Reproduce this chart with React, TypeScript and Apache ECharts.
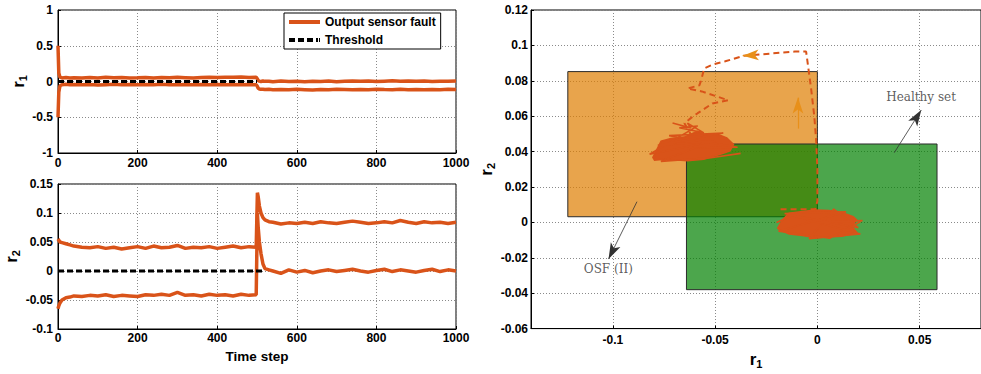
import React, { useEffect, useRef } from "react";
import * as echarts from "echarts";

// ---- Time-domain residuals -------------------------------------------------
const STEPS = [
  0, 2, 5, 10, 20, 30, 40, 60, 80, 100, 120, 140, 160, 180, 200, 220, 240, 260, 280, 300,
  320, 340, 360, 380, 400, 420, 440, 460, 480, 498, 501, 503, 506, 510, 515, 520, 530, 540,
  560, 580, 600, 620, 640, 660, 680, 700, 720, 740, 760, 780, 800, 820, 840, 860, 880, 900,
  920, 940, 960, 980, 1000,
];

const R1_UPPER = [
  0.5, 0.12, 0.06, 0.05, 0.055, 0.05, 0.052, 0.048, 0.055, 0.05, 0.058, 0.052, 0.055, 0.05,
  0.053, 0.057, 0.05, 0.055, 0.052, 0.058, 0.054, 0.05, 0.056, 0.06, 0.055, 0.06, 0.058,
  0.062, 0.057, 0.06, 0.035, 0.015, 0.005, 0.0, 0.008, 0.002, 0.005, -0.002, 0.006, 0.0,
  0.004, -0.003, 0.005, 0.001, 0.006, -0.002, 0.004, 0.008, 0.002, 0.006, 0.0, 0.005, 0.009,
  0.003, 0.007, 0.002, 0.006, 0.001, 0.005, 0.003, 0.006,
];

const R1_LOWER = [
  -0.5, -0.15, -0.06, -0.045, -0.04, -0.045, -0.042, -0.047, -0.043, -0.048, -0.044, -0.04,
  -0.046, -0.043, -0.047, -0.042, -0.045, -0.04, -0.044, -0.047, -0.042, -0.045, -0.041,
  -0.046, -0.043, -0.047, -0.042, -0.045, -0.041, -0.044, -0.07, -0.095, -0.105, -0.11,
  -0.108, -0.113, -0.11, -0.115, -0.112, -0.117, -0.11, -0.114, -0.118, -0.112, -0.115,
  -0.11, -0.113, -0.117, -0.111, -0.114, -0.109, -0.113, -0.116, -0.11, -0.114, -0.111,
  -0.115, -0.112, -0.116, -0.11, -0.113,
];

const R2_UPPER = [
  0.055, 0.053, 0.05, 0.049, 0.047, 0.045, 0.043, 0.041, 0.04, 0.042, 0.039, 0.041, 0.038,
  0.04, 0.042, 0.039, 0.043, 0.04, 0.041, 0.044, 0.039, 0.041, 0.04, 0.042, 0.039, 0.041,
  0.043, 0.04, 0.042, 0.041, 0.135, 0.128, 0.112, 0.1, 0.092, 0.088, 0.085, 0.084, 0.081,
  0.083, 0.082, 0.084, 0.082, 0.085, 0.083, 0.082, 0.084, 0.086, 0.084, 0.082, 0.083, 0.085,
  0.083, 0.087, 0.084, 0.082, 0.085, 0.083, 0.084, 0.082, 0.084,
];

const R2_LOWER = [
  -0.065, -0.06, -0.055, -0.05, -0.046, -0.045, -0.043, -0.044, -0.042, -0.043, -0.041,
  -0.044, -0.042, -0.043, -0.044, -0.041, -0.042, -0.04, -0.042, -0.037, -0.042, -0.041,
  -0.043, -0.04, -0.042, -0.041, -0.043, -0.04, -0.042, -0.041, 0.1, 0.075, 0.05, 0.03,
  0.012, 0.004, 0.002, 0.0, -0.004, 0.002, -0.002, 0.001, -0.003, 0.0, 0.002, -0.001, 0.001,
  0.003, 0.0, -0.002, 0.001, 0.003, -0.001, 0.002, 0.0, -0.002, 0.001, 0.003, -0.001, 0.002,
  0.0,
];

const THRESHOLD_T1 = [0, 500];
const THRESHOLD_T2 = [0, 520];
const THRESHOLD_LEVEL = [0, 0];

// ---- Residual plane (r1, r2) ----------------------------------------------
const OSF_SET_R1 = [-0.122, 0.0];
const OSF_SET_R2 = [0.0032, 0.0852];
const HEALTHY_SET_R1 = [-0.064, 0.0585];
const HEALTHY_SET_R2 = [-0.038, 0.0443];

const R1_TICKS = [-0.1, -0.05, 0, 0.05];

// transition between the two operating regions
const PATH_R1 = [
  -0.018, -0.001, 0.0, 0.0, -0.0005, -0.0015, -0.003, -0.0045, -0.0055, -0.011, -0.027,
  -0.036, -0.045, -0.051, -0.0553, -0.0569, -0.0577, -0.0635, -0.0565, -0.05, -0.0436,
  -0.0513, -0.0585, -0.0619, -0.065, -0.062,
];
const PATH_R2 = [
  0.0075, 0.0075, 0.012, 0.03, 0.045, 0.06, 0.075, 0.088, 0.0965, 0.0965, 0.095, 0.0942,
  0.091, 0.0893, 0.087, 0.08, 0.0774, 0.0757, 0.074, 0.0715, 0.069, 0.0672, 0.0617, 0.0589,
  0.056, 0.05,
];

// extent of the dense residual cloud in each operating mode
const HEALTHY_CLOUD: [number, number][] = [
  [-0.0194, -0.0032], [-0.017, 0.0015], [-0.0138, 0.0052], [-0.0073, 0.0061],
  [-0.0009, 0.007], [0.0055, 0.0067], [0.0119, 0.0056], [0.0175, 0.0033], [0.0192, 0.0015],
  [0.0168, -0.0022], [0.0192, -0.0056], [0.0119, -0.0078], [0.0039, -0.0082],
  [-0.0009, -0.0087], [-0.0073, -0.0074], [-0.0138, -0.0065], [-0.0186, -0.0041],
];

const FAULT_CLOUD: [number, number][] = [
  [-0.0804, 0.0367], [-0.078, 0.0422], [-0.0764, 0.0459], [-0.0716, 0.0474],
  [-0.0651, 0.0482], [-0.0587, 0.0515], [-0.0555, 0.0496], [-0.0491, 0.05], [-0.0443, 0.0478],
  [-0.041, 0.0441], [-0.0427, 0.0404], [-0.0475, 0.0385], [-0.0555, 0.0357],
  [-0.0635, 0.0348], [-0.0684, 0.0352], [-0.0748, 0.0357], [-0.0796, 0.0352],
];

// scattered excursions around the clouds
const HEALTHY_SCRIBBLE: [number, number][] = [
  [-0.02, 0.0], [-0.012, 0.004], [0.02, -0.003], [0.008, 0.0075], [-0.004, -0.0092],
  [0.021, -0.0065], [-0.016, 0.005], [0.014, 0.006], [-0.019, -0.005], [0.006, -0.009],
  [0.022, 0.001], [0.0, 0.0],
];

const FAULT_SCRIBBLE: [number, number][] = [
  [-0.0708, 0.0561], [-0.0619, 0.0533], [-0.0635, 0.0561], [-0.0555, 0.0506],
  [-0.0675, 0.0535], [-0.0585, 0.0545], [-0.082, 0.0385], [-0.05, 0.046], [-0.078, 0.0435],
  [-0.046, 0.0505], [-0.0725, 0.049], [-0.039, 0.0425], [-0.06, 0.042], [-0.0765, 0.0345],
  [-0.052, 0.0365], [-0.0375, 0.039],
];

// annotation arrows: [start, end]
const HEALTHY_ARROW_R1 = [0.0376, 0.0508];
const HEALTHY_ARROW_R2 = [0.0394, 0.0635];
const OSF_ARROW_R1 = [-0.0882, -0.1021];
const OSF_ARROW_R2 = [0.0117, -0.0207];
const LEFT_ARROW_R1 = [-0.03, -0.0365];
const LEFT_ARROW_R2 = [0.0946, 0.0942];
const UP_ARROW_R1 = [-0.0095, -0.0095];
const UP_ARROW_R2 = [0.053, 0.0705];

const LABEL_NAMES = ["Healthy set", "OSF (II)"];
const LABEL_R1 = [0.0507, -0.1022];
const LABEL_R2 = [0.0706, -0.0261];

// ---- Styling ----------------------------------------------------------------
const FONT = "Liberation Sans";
const SERIF = "DejaVu Serif";
const ORANGE = "#d95319";
const ARROW_ORANGE = "#e8901a";

const fmt = (v: number) => String(Number(v.toFixed(4)));

const zip = (xs: number[], ys: number[]) => xs.map((x, i) => [x, ys[i]]);

const axisBase = (extra: any) => ({
  type: "value",
  axisLine: { show: true, onZero: false, lineStyle: { color: "#000", width: 1 } },
  axisTick: { show: true, inside: true, length: 3, lineStyle: { color: "#000" } },
  splitLine: { show: true, lineStyle: { color: "#8a8a8a", type: [1, 2], width: 1 } },
  ...extra,
  axisLabel: {
    color: "#000",
    fontFamily: FONT,
    fontWeight: "bold",
    fontSize: 12,
    formatter: fmt,
    ...(extra.axisLabel || {}),
  },
});

const subName = (base: string, sub: string) => ({
  name: `{r|${base}}{s|${sub}}`,
  nameTextStyle: {
    rich: {
      r: { fontFamily: FONT, fontWeight: "bold", fontSize: 17, color: "#000", lineHeight: 20 },
      s: {
        fontFamily: FONT,
        fontWeight: "bold",
        fontSize: 11,
        color: "#000",
        lineHeight: 13,
        verticalAlign: "bottom",
        padding: [6, 0, 0, 0],
      },
    },
  },
});

const residualLine = (grid: number, values: number[]) => ({
  name: "Output sensor fault",
  type: "line",
  xAxisIndex: grid,
  yAxisIndex: grid,
  data: zip(STEPS, values),
  symbol: "none",
  showSymbol: false,
  lineStyle: { color: ORANGE, width: 3.5 },
  itemStyle: { color: ORANGE },
  z: 3,
});

const thresholdLine = (grid: number, ts: number[]) => ({
  name: "Threshold",
  type: "line",
  xAxisIndex: grid,
  yAxisIndex: grid,
  data: zip(ts, THRESHOLD_LEVEL),
  symbol: "none",
  showSymbol: false,
  lineStyle: { color: "#000", width: 3, type: [6, 3] },
  itemStyle: { color: "#000" },
  z: 4,
});

const cloudSeries = (name: string, outline: [number, number][]) => ({
  name,
  type: "custom",
  xAxisIndex: 2,
  yAxisIndex: 2,
  z: 3,
  silent: true,
  data: [outline[0]],
  renderItem: (_params: any, api: any) => ({
    type: "polygon",
    shape: { points: outline.map((p) => api.coord(p)) },
    style: { fill: ORANGE, stroke: ORANGE, lineWidth: 1.5 },
  }),
});

const scribbleSeries = (name: string, pts: [number, number][]) => ({
  name,
  type: "line",
  xAxisIndex: 2,
  yAxisIndex: 2,
  data: pts,
  symbol: "none",
  showSymbol: false,
  silent: true,
  lineStyle: { color: ORANGE, width: 1.6 },
  z: 3,
});

const arrow = (xs: number[], ys: number[], color: string, width: number, size: number[]) => [
  {
    coord: [xs[0], ys[0]],
    lineStyle: { color, width, type: "solid" },
    symbolSize: size,
  },
  { coord: [xs[1], ys[1]] },
];

export default function App() {
  const ref = useRef<HTMLDivElement>(null);

  useEffect(() => {
    if (!ref.current) return;
    const chart = echarts.init(ref.current, undefined, { renderer: "svg" });

    const option: any = {
      animation: false,
      backgroundColor: "#fff",
      grid: [
        { left: 58, top: 10, width: 398, height: 143, show: true, borderColor: "#000", borderWidth: 1 },
        { left: 58, top: 184, width: 398, height: 145, show: true, borderColor: "#000", borderWidth: 1 },
        { left: 531, top: 10, width: 457, height: 324, show: true, borderColor: "#000", borderWidth: 1 },
      ],
      legend: {
        left: 284,
        top: 13,
        orient: "vertical",
        itemWidth: 31,
        itemHeight: 4,
        itemGap: 6,
        padding: [3, 5, 3, 5],
        backgroundColor: "#fff",
        borderColor: "#000",
        borderWidth: 1,
        borderRadius: 0,
        textStyle: { fontFamily: FONT, fontWeight: "bold", fontSize: 12, color: "#000" },
        data: [
          { name: "Output sensor fault", icon: "path://M0,0H31V4H0Z" },
          {
            name: "Threshold",
            icon: "path://M0,0H6V4H0Z M9,0H15V4H9Z M18,0H24V4H18Z M27,0H29V4H27Z M30,0H31V4H30Z",
          },
        ],
      },
      xAxis: [
        axisBase({ gridIndex: 0, min: 0, max: 1000, interval: 200, axisLabel: { margin: 4 } }),
        axisBase({
          gridIndex: 1,
          min: 0,
          max: 1000,
          interval: 200,
          axisLabel: { margin: 3 },
          name: "Time step",
          nameLocation: "middle",
          nameGap: 20,
          nameTextStyle: { fontFamily: FONT, fontWeight: "bold", fontSize: 13.5, color: "#000" },
        }),
        axisBase({
          gridIndex: 2,
          min: -0.14,
          max: 0.08,
          axisTick: { show: true, inside: true, length: 3, lineStyle: { color: "#000" }, customValues: R1_TICKS },
          axisLabel: { margin: 5, customValues: R1_TICKS },
          nameLocation: "middle",
          nameGap: 12,
          ...subName("r", "1"),
        }),
      ],
      yAxis: [
        axisBase({
          gridIndex: 0,
          min: -1,
          max: 1,
          interval: 0.5,
          axisLabel: { margin: 5 },
          nameLocation: "middle",
          nameRotate: 90,
          nameGap: 30,
          ...subName("r", "1"),
        }),
        axisBase({
          gridIndex: 1,
          min: -0.1,
          max: 0.15,
          interval: 0.05,
          axisLabel: { margin: 5 },
          nameLocation: "middle",
          nameRotate: 90,
          nameGap: 30,
          ...subName("r", "2"),
        }),
        axisBase({
          gridIndex: 2,
          min: -0.06,
          max: 0.12,
          interval: 0.02,
          axisLabel: { margin: 3 },
          nameLocation: "middle",
          nameRotate: 90,
          nameGap: 34,
          ...subName("r", "2"),
        }),
      ],
      series: [
        residualLine(0, R1_UPPER),
        residualLine(0, R1_LOWER),
        thresholdLine(0, THRESHOLD_T1),
        residualLine(1, R2_UPPER),
        residualLine(1, R2_LOWER),
        thresholdLine(1, THRESHOLD_T2),
        {
          name: "Regions",
          type: "line",
          xAxisIndex: 2,
          yAxisIndex: 2,
          data: [],
          z: 1,
          markArea: {
            silent: true,
            label: { show: false },
            data: [
              [
                {
                  coord: [OSF_SET_R1[0], OSF_SET_R2[0]],
                  itemStyle: { color: "rgba(222,125,0,0.7)", borderColor: "#2b2b2b", borderWidth: 1 },
                },
                { coord: [OSF_SET_R1[1], OSF_SET_R2[1]] },
              ],
              [
                {
                  coord: [HEALTHY_SET_R1[0], HEALTHY_SET_R2[0]],
                  itemStyle: { color: "rgba(0,128,0,0.7)", borderColor: "#2b2b2b", borderWidth: 1 },
                },
                { coord: [HEALTHY_SET_R1[1], HEALTHY_SET_R2[1]] },
              ],
            ],
          },
        },
        {
          name: "Transition",
          type: "line",
          xAxisIndex: 2,
          yAxisIndex: 2,
          data: zip(PATH_R1, PATH_R2),
          symbol: "none",
          showSymbol: false,
          silent: true,
          lineStyle: { color: ORANGE, width: 2, type: [6, 4] },
          z: 3,
        },
        cloudSeries("Healthy cloud", HEALTHY_CLOUD),
        cloudSeries("Fault cloud", FAULT_CLOUD),
        scribbleSeries("Healthy excursions", HEALTHY_SCRIBBLE),
        scribbleSeries("Fault excursions", FAULT_SCRIBBLE),
        {
          name: "Annotations",
          type: "scatter",
          xAxisIndex: 2,
          yAxisIndex: 2,
          symbolSize: 0,
          silent: true,
          z: 5,
          data: LABEL_NAMES.map((n, i) => ({ name: n, value: [LABEL_R1[i], LABEL_R2[i]] })),
          label: {
            show: true,
            position: "inside",
            formatter: "{b}",
            fontFamily: SERIF,
            fontSize: 12,
            color: "#333",
          },
          markLine: {
            silent: true,
            symbol: ["none", "arrow"],
            label: { show: false },
            data: [
              arrow(HEALTHY_ARROW_R1, HEALTHY_ARROW_R2, "#333", 0.8, [7, 9]),
              arrow(OSF_ARROW_R1, OSF_ARROW_R2, "#333", 0.8, [7, 9]),
              arrow(LEFT_ARROW_R1, LEFT_ARROW_R2, ARROW_ORANGE, 1.2, [11, 12]),
              arrow(UP_ARROW_R1, UP_ARROW_R2, ARROW_ORANGE, 1.2, [11, 12]),
            ],
          },
        },
      ],
    };

    chart.setOption(option);
    return () => chart.dispose();
  }, []);

  return (
    <div
      ref={ref}
      style={{ position: "fixed", left: 0, top: 0, width: 981, height: 374, background: "#fff" }}
    />
  );
}
